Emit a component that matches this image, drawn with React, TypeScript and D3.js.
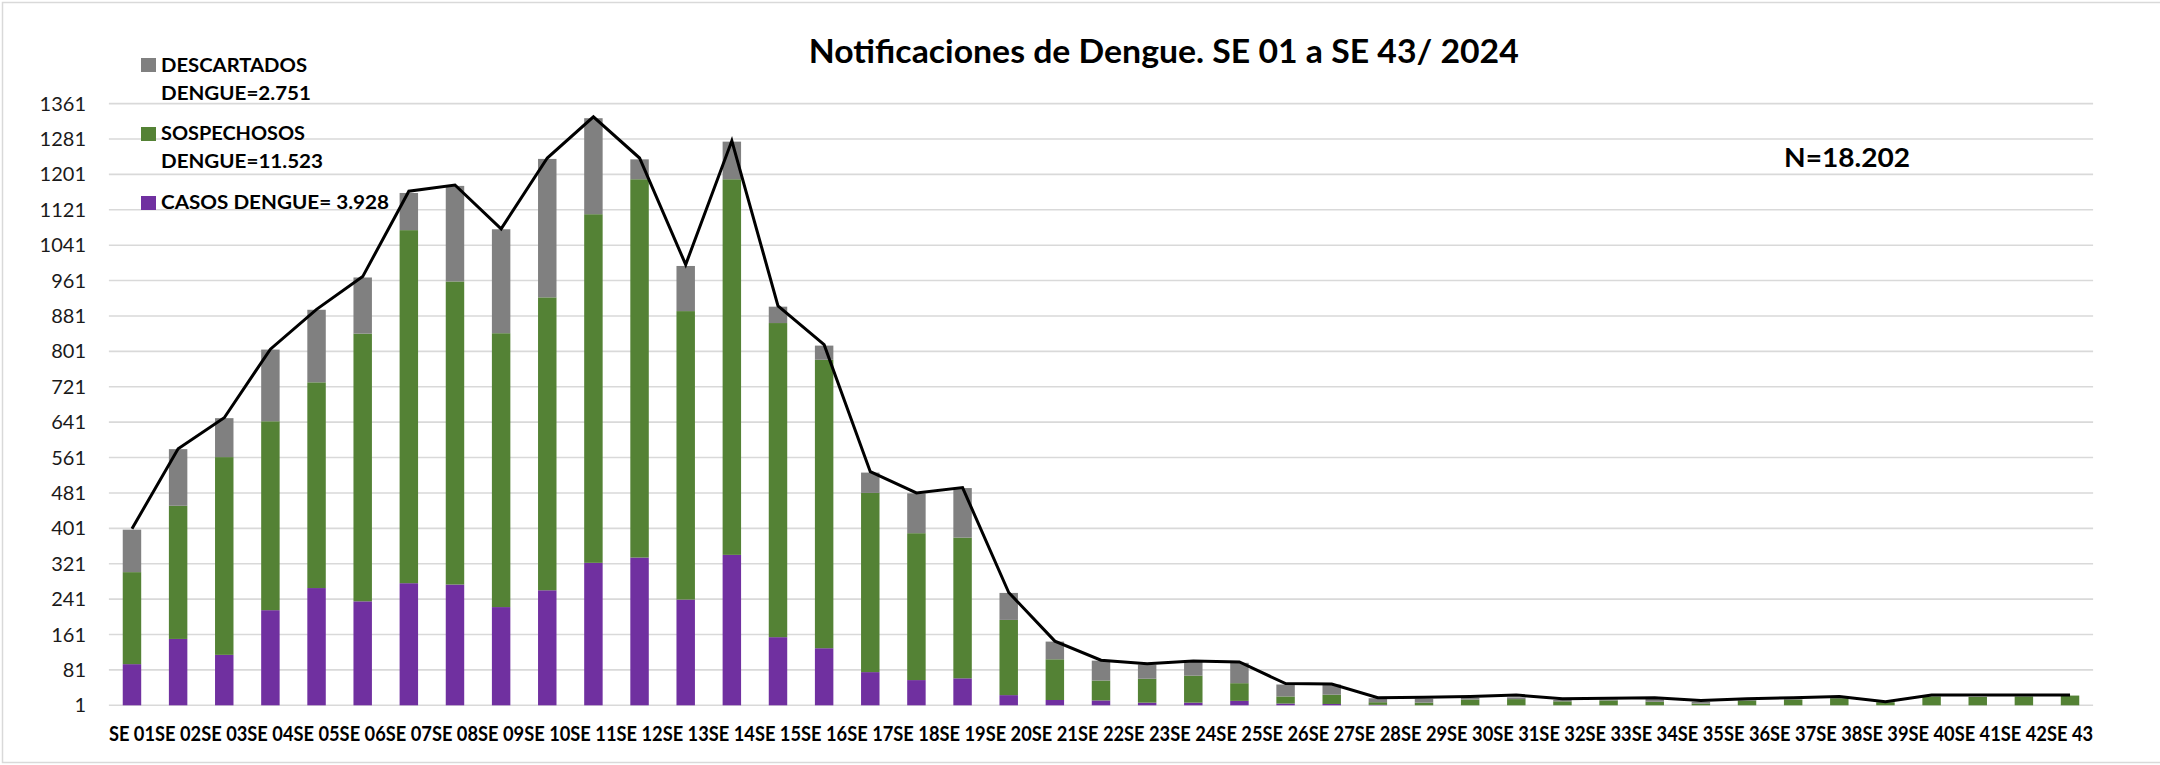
import React from "react";
import * as d3 from "d3";

const categories = [
  "SE 01", "SE 02", "SE 03", "SE 04", "SE 05", "SE 06", "SE 07", "SE 08", "SE 09", "SE 10",
  "SE 11", "SE 12", "SE 13", "SE 14", "SE 15", "SE 16", "SE 17", "SE 18", "SE 19", "SE 20",
  "SE 21", "SE 22", "SE 23", "SE 24", "SE 25", "SE 26", "SE 27", "SE 28", "SE 29", "SE 30",
  "SE 31", "SE 32", "SE 33", "SE 34", "SE 35", "SE 36", "SE 37", "SE 38", "SE 39", "SE 40",
  "SE 41", "SE 42", "SE 43",
];

const casos = [
  94, 151, 115, 216, 266, 236, 277, 274, 223, 261,
  323, 335, 240, 341, 155, 130, 76, 58, 62, 24,
  13, 12, 7, 7, 11, 5, 4, 2, 1, 1,
  1, 1, 1, 1, 1, 1, 1, 1, 1, 1,
  0, 0, 0,
];

const sospechosos = [
  208, 301, 447, 427, 465, 605, 798, 685, 619, 662,
  788, 855, 652, 849, 710, 652, 405, 332, 318, 170,
  92, 45, 54, 61, 40, 16, 21, 6, 6, 13,
  14, 9, 11, 8, 4, 11, 13, 16, 7, 20,
  20, 21, 23,
];

const descartados = [
  96, 128, 88, 162, 164, 127, 84, 216, 235, 313,
  217, 45, 102, 85, 37, 32, 46, 90, 112, 61,
  40, 45, 32, 32, 46, 27, 23, 9, 9, 4,
  4, 3, 2, 6, 4, 1, 1, 1, 0, 0,
  0, 0, 0,
];

const totalLinea = [
  400, 581, 651, 806, 896, 970, 1163, 1177, 1078, 1238,
  1331, 1238, 997, 1277, 904, 816, 529, 481, 493, 256,
  146, 103, 95, 101, 99, 50, 49, 18, 19, 21,
  24, 16, 17, 18, 12, 16, 18, 21, 9, 24,
  24, 24, 24,
];

const yTicks = [1, 81, 161, 241, 321, 401, 481, 561, 641, 721, 801, 881, 961, 1041, 1121, 1201, 1281, 1361];

const seriesKeys = ["casos", "sospechosos", "descartados"];
const seriesColors: Record<string, string> = {
  casos: "#7030A0",
  sospechosos: "#548235",
  descartados: "#808080",
};

const legendLines = [
  { key: "descartados", lines: ["DESCARTADOS", "DENGUE=2.751"] },
  { key: "sospechosos", lines: ["SOSPECHOSOS", "DENGUE=11.523"] },
  { key: "casos", lines: ["CASOS DENGUE= 3.928"] },
];

const titleText = "Notificaciones de Dengue. SE 01 a SE 43/ 2024";
const nText = "N=18.202";

const FONT = "Lato, 'Open Sans', 'DejaVu Sans', sans-serif";

export default function App() {
  const W = 2160;
  const H = 765;

  const x = d3
    .scaleBand<string>()
    .domain(categories)
    .range([108.9, 2093.1])
    .paddingInner(0.6)
    .paddingOuter(0.3);
  const y = d3.scaleLinear().domain([1, 1361]).range([705.3, 103.6]);
  const bw = x.bandwidth();
  const step = x.step();

  const rows = categories.map((c, i) => ({
    cat: c,
    casos: casos[i],
    sospechosos: sospechosos[i],
    descartados: descartados[i],
  }));
  const stacked = d3.stack<any>().keys(seriesKeys)(rows);

  const line = d3
    .line<number>()
    .x((_, i) => (x(categories[i]) as number) + bw / 2)
    .y((v) => y(v));

  const gridX0 = x.range()[0];
  const gridX1 = x.range()[1];

  const legendX = 141;
  const legendRows = [
    { sqY: 58, baselines: [71.7, 100] },
    { sqY: 127, baselines: [140, 168.3] },
    { sqY: 196, baselines: [209] },
  ];
  const legendWidths = [
    [146, 150],
    [144, 162],
    [228],
  ];

  return (
    <svg
      width={W}
      height={H}
      style={{ position: "absolute", left: 0, top: 0, display: "block", background: "#fff" }}
      fontFamily={FONT}
    >
      <rect x={0} y={0} width={W} height={H} fill="#fff" />
      {/* chart border */}
      <rect x={2.5} y={2.5} width={W + 10} height={760} fill="none" stroke="#d9d9d9" strokeWidth={1.5} />

      {/* gridlines */}
      {yTicks.map((t) => (
        <line key={t} x1={gridX0} x2={gridX1} y1={y(t)} y2={y(t)} stroke="#d9d9d9" strokeWidth={1.6} />
      ))}

      {/* y tick labels */}
      {yTicks.map((t) => (
        <text key={"l" + t} x={86} y={y(t) + 7} textAnchor="end" fontSize={20} fill="#1a1a1a">
          {t}
        </text>
      ))}

      {/* stacked bars */}
      {stacked.map((s) => (
        <g key={s.key} fill={seriesColors[s.key]}>
          {s.map((d, i) => {
            const top = y(Math.max(1, d[1]));
            const bot = y(Math.max(1, d[0]));
            const h = bot - top;
            if (h <= 0) return null;
            return <rect key={i} x={x(categories[i])} y={top} width={bw} height={h} />;
          })}
        </g>
      ))}

      {/* total line */}
      <path
        d={line(totalLinea) || ""}
        fill="none"
        stroke="#000"
        strokeWidth={3}
        strokeLinejoin="miter"
        strokeMiterlimit={6}
      />

      {/* x tick labels */}
      {categories.map((c) => (
        <text
          key={"x" + c}
          x={(x(c) as number) + bw / 2}
          y={741}
          textAnchor="middle"
          fontSize={20}
          fontWeight={700}
          fill="#000"
          textLength={step}
          lengthAdjust="spacingAndGlyphs"
        >
          {c}
        </text>
      ))}

      {/* title */}
      <text
        x={808.8}
        y={63}
        fontSize={32.5}
        fontWeight={700}
        fill="#000"
        textLength={710}
        lengthAdjust="spacingAndGlyphs"
      >
        {titleText}
      </text>

      {/* N label */}
      <text x={1784} y={166.7} fontSize={27.5} fontWeight={700} fill="#000" textLength={126} lengthAdjust="spacingAndGlyphs">
        {nText}
      </text>

      {/* legend */}
      {legendLines.map((item, k) => (
        <g key={item.key}>
          <rect x={legendX} y={legendRows[k].sqY} width={15} height={14} fill={seriesColors[item.key]} />
          {item.lines.map((ln, j) => (
            <text
              key={j}
              x={161}
              y={legendRows[k].baselines[j]}
              fontSize={18.5}
              fontWeight={700}
              fill="#000"
              textLength={legendWidths[k][j]}
              lengthAdjust="spacingAndGlyphs"
            >
              {ln}
            </text>
          ))}
        </g>
      ))}
    </svg>
  );
}
